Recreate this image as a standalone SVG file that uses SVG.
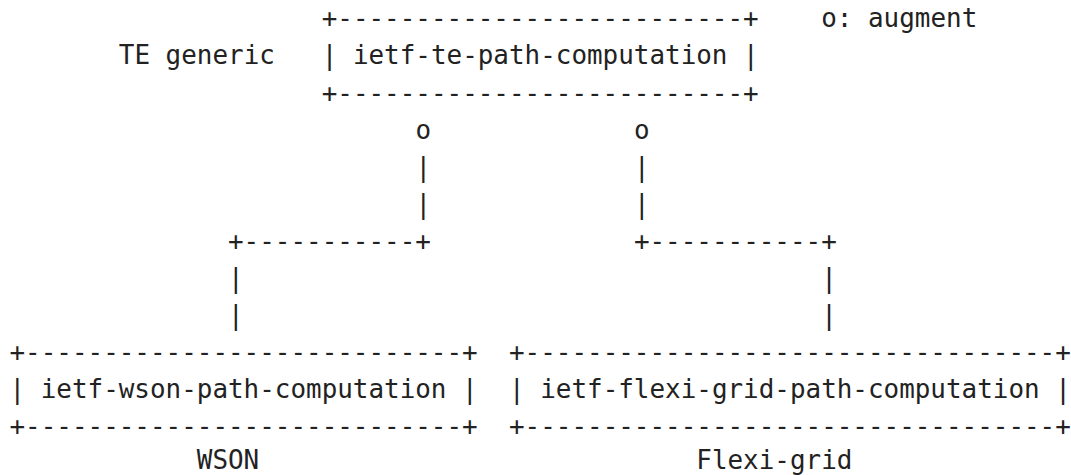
<svg xmlns="http://www.w3.org/2000/svg" width="1071" height="475" viewBox="0 0 1071 475">
<style>
text{font-family:"DejaVu Sans Mono","Liberation Mono",monospace;font-size:25.93px;fill:#222;white-space:pre}
</style>
<rect width="1071" height="475" fill="#fff"/>
<g id="legend"><text x="821.2" y="27.3">o: augment</text></g>
<g id="label-te"><text x="118.8" y="64.4">TE generic</text></g>
<g id="node-te">
<text x="321.7" y="27.3">+--------------------------+</text>
<text x="321.7" y="64.4">| ietf-te-path-computation |</text>
<text x="321.7" y="101.5">+--------------------------+</text>
</g>
<g id="connectors">
<text x="415.4" y="138.6">o</text>
<text x="633.9" y="138.6">o</text>
<text x="415.4" y="175.7">|</text>
<text x="633.9" y="175.7">|</text>
<text x="415.4" y="212.8">|</text>
<text x="633.9" y="212.8">|</text>
<text x="228.0" y="249.9">+-----------+</text>
<text x="633.9" y="249.9">+-----------+</text>
<text x="228.0" y="287.0">|</text>
<text x="821.2" y="287.0">|</text>
<text x="228.0" y="324.1">|</text>
<text x="821.2" y="324.1">|</text>
</g>
<g id="node-wson">
<text x="9.5" y="361.2">+----------------------------+</text>
<text x="9.5" y="398.3">| ietf-wson-path-computation |</text>
<text x="9.5" y="435.4">+----------------------------+</text>
</g>
<g id="node-flexi">
<text x="509.0" y="361.2">+----------------------------------+</text>
<text x="509.0" y="398.3">| ietf-flexi-grid-path-computation |</text>
<text x="509.0" y="435.4">+----------------------------------+</text>
</g>
<g id="label-wson"><text x="196.8" y="468.6">WSON</text></g>
<g id="label-flexi"><text x="696.3" y="468.6">Flexi-grid</text></g>
</svg>
